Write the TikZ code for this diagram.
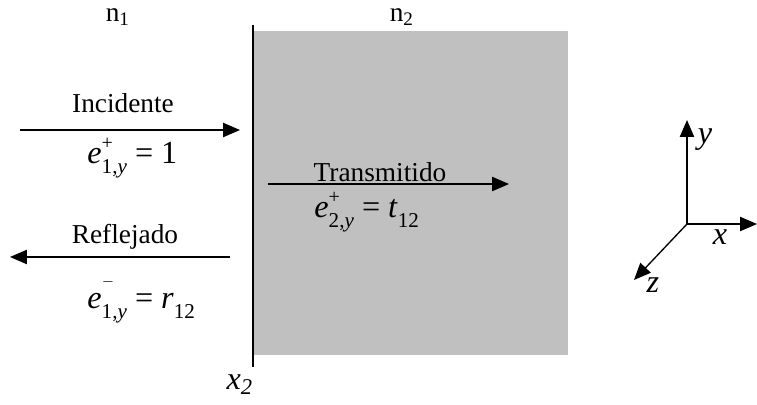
\documentclass[tikz,border=0pt]{standalone}
\usepackage{fontspec}
\setmainfont{Liberation Serif}
\usetikzlibrary{arrows.meta}
\newcommand{\supsc}[1]{\rlap{\raisebox{1.0ex}{\fontsize{9}{10}\selectfont #1}}}
\newcommand{\subsc}[1]{\raisebox{-0.65ex}{\fontsize{9.5}{10}\selectfont #1}}
\begin{document}
\begin{tikzpicture}[x=0.45pt,y=-0.45pt,
  txt/.style={inner sep=0pt,font=\fontsize{12.3}{14}\selectfont},
  eq/.style={inner sep=0pt,font=\fontsize{14.5}{16}\selectfont},
  arr/.style={line width=0.6pt,-{Triangle[length=7.6pt,width=6.4pt]}},
  ln/.style={line width=0.6pt}]
\useasboundingbox (0,0) rectangle (757,405);
% gray medium
\fill[fill={rgb,255:red,192;green,192;blue,192}] (253,31) rectangle (568,355);
% interface
\coordinate (itop) at (253,25);
\coordinate (ibot) at (253,367);
\draw[ln] (itop) -- (ibot);
% labels
\node[txt] (n1) at (118,17) {n\textsubscript{1}};
\node[txt] (n2) at (402,17) {n\textsubscript{2}};
\node[eq] (x2) at (240,385) {\textit{x\textsubscript{2}}};
% incident
\coordinate (ia) at (20,130);
\coordinate (ib) at (240,130);
\draw[arr] (ia) -- (ib);
\node[txt] (inc) at (123,103) {Incidente};
\node[eq,anchor=west] (e1p) at (87,158) {\textit{e}\supsc{+}\subsc{1,\textit{y}} = 1};
% reflected
\coordinate (ra) at (230,257);
\coordinate (rb) at (10,257);
\draw[arr] (ra) -- (rb);
\node[txt] (ref) at (125,237) {Reflejado};
\node[eq,anchor=west] (e1m) at (87,300) {\textit{e}\supsc{$^{-}$}\subsc{1,\textit{y}} = \textit{r}\subsc{12}};
% transmitted
\coordinate (ta) at (268,184);
\coordinate (tb) at (509,184);
\draw[arr] (ta) -- (tb);
\node[txt] (tra) at (380,172) {Transmitido};
\node[eq,anchor=west] (e2p) at (314,212) {\textit{e}\supsc{+}\subsc{2,\textit{y}} = \textit{t}\subsc{12}};
% axes
\coordinate (o) at (687,224);
\coordinate (ay) at (687,120);
\coordinate (ax) at (757,224);
\coordinate (az) at (634,280);
\draw[arr] (o) -- (ay);
\draw[arr] (o) -- (ax);
\draw[arr] (o) -- (az);
\node[eq] (ly) at (705,140) {\textit{y}};
\node[eq] (lx) at (720,237) {\textit{x}};
\node[eq] (lz) at (653,285) {\textit{z}};
\end{tikzpicture}
\end{document}
